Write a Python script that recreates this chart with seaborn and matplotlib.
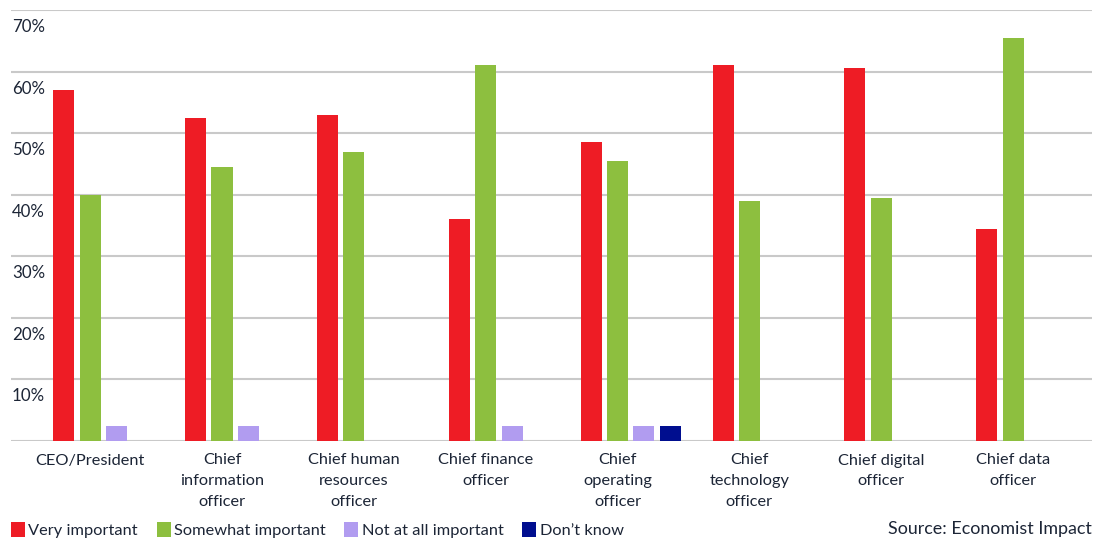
import matplotlib
matplotlib.use("Agg")
import matplotlib.pyplot as plt
import seaborn as sns
import pandas as pd
from matplotlib.transforms import offset_copy, blended_transform_factory

# Survey data: importance of the topic by executive role (% of respondents)
roles = [
    "CEO/President",
    "Chief\ninformation\nofficer",
    "Chief human\nresources\nofficer",
    "Chief finance\nofficer",
    "Chief\noperating\nofficer",
    "Chief\ntechnology\nofficer",
    "Chief digital\nofficer",
    "Chief data\nofficer",
]
responses = ["Very important", "Somewhat important", "Not at all important", "Don\u2019t know"]
very_important = [57.0, 52.5, 53.0, 36.0, 48.5, 61.0, 60.5, 34.5]
somewhat_important = [40.0, 44.5, 47.0, 61.0, 45.5, 39.0, 39.5, 65.5]
not_at_all_important = [2.5, 2.5, 0.0, 2.5, 2.5, 0.0, 0.0, 0.0]
dont_know = [0.0, 0.0, 0.0, 0.0, 2.5, 0.0, 0.0, 0.0]
y_ticks = [10, 20, 30, 40, 50, 60, 70]
y_tick_labels = ["10%", "20%", "30%", "40%", "50%", "60%", "70%"]

colors = ["#ee1c25", "#8dbf3f", "#b19cf0", "#000e8f"]
text_color = "#1c2536"

df = pd.DataFrame({
    "role": roles * 4,
    "response": [r for r in responses for _ in roles],
    "value": very_important + somewhat_important + not_at_all_important + dont_know,
})

sns.set_theme(style="white")
plt.rcParams["font.family"] = ["Lato", "DejaVu Sans"]

fig = plt.figure(figsize=(11.04, 5.38), dpi=100)
W, H = 1104, 538
ax = fig.add_axes([11 / W, 97 / H, 1081 / W, 431 / H])

sns.barplot(
    data=df, x="role", y="value", hue="response",
    order=roles, hue_order=responses, palette=colors, saturation=1,
    width=0.8, gap=0.2, linewidth=0, errorbar=None, ax=ax,
)

ax.set_ylim(0, 70)
ax.set_xlim(-0.70, 7.498)
ax.set_axisbelow(True)
for v in [0] + y_ticks:
    ax.axhline(v, color="#c9c9c9", linewidth=1.5, zorder=0)

for s in ax.spines.values():
    s.set_visible(False)

# Category labels sit under the second bar of each group
ax.set_xticks([i - 0.1 for i in range(len(roles))])
ax.set_xticklabels(roles, fontsize=11.8, color=text_color, va="top")
for t in ax.get_xticklabels():
    t.set_linespacing(1.6)
ax.tick_params(axis="x", length=0, pad=9)
ax.set_yticks([])
ax.set_xlabel("")
ax.set_ylabel("")

# Percent labels placed just beneath each gridline
trans = blended_transform_factory(ax.transAxes, ax.transData)
trans = offset_copy(trans, fig=fig, x=1, y=-22, units="dots")
for v, lab in zip(y_ticks, y_tick_labels):
    ax.text(0, v, lab, transform=trans, ha="left", va="baseline",
            fontsize=12.2, color=text_color)

handles, labels = ax.get_legend_handles_labels()
ax.legend_.remove()
fig.legend(
    handles, labels, loc="center left", bbox_to_anchor=(11 / W, 1 - 530 / H),
    ncol=4, frameon=False, fontsize=11.8, handlelength=0.85, handleheight=1.0,
    handletextpad=0.2, columnspacing=1.15, labelcolor=text_color,
    borderaxespad=0, borderpad=0,
)

fig.text(1092 / W, 1 - 529 / H, "Source: Economist Impact", ha="right", va="center",
         fontsize=12.9, color=text_color)

fig.savefig("out.png", dpi=100)
